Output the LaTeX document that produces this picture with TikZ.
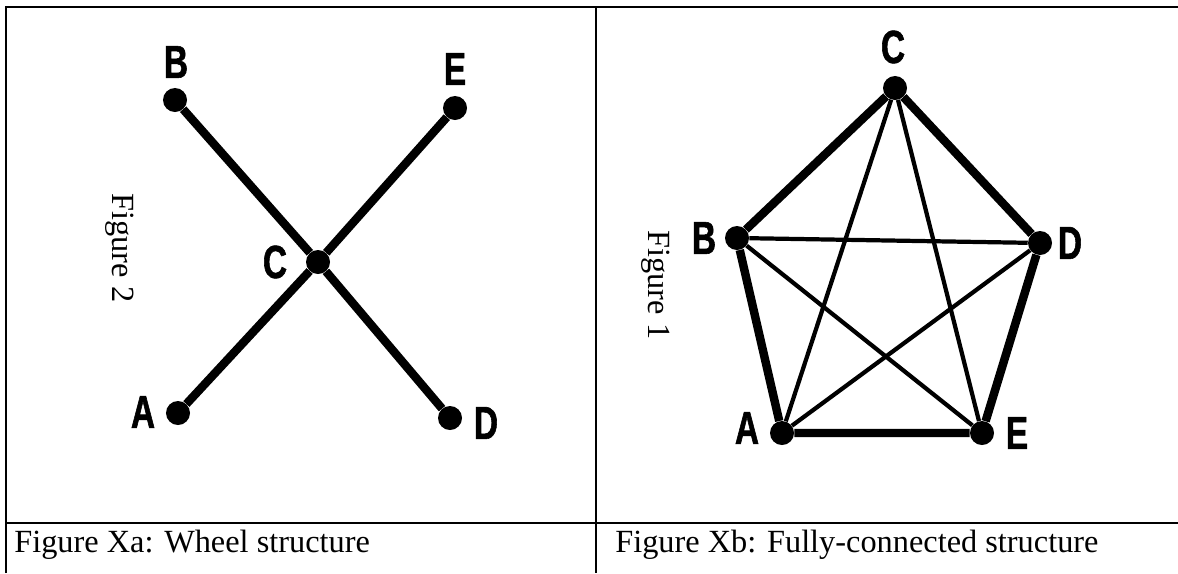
\documentclass[tikz,border=0pt]{standalone}
\usepackage{fontspec}
\setmainfont{Liberation Serif}
\newfontfamily\lblfont[FakeStretch=0.72,FakeBold=1.2]{Liberation Sans}
\usetikzlibrary{positioning}
\tikzset{
  vtx/.style={circle, fill=black, inner sep=0pt, minimum size=0.6cm},
  vlabel/.style={font=\lblfont\bfseries\fontsize{33}{33}\selectfont, inner sep=0pt},
  spoke/.style={line width=6pt},
  chord/.style={line width=3pt},
  tablerule/.style={line width=1.8pt},
  caption/.style={font=\fontsize{23}{27}\selectfont, anchor=base west, inner sep=0pt},
  sidetitle/.style={font=\fontsize{23}{27}\selectfont, rotate=-90, inner sep=0pt}
}

\begin{document}
\begin{tikzpicture}[x=0.025cm, y=-0.025cm]
\useasboundingbox (0,0) rectangle (1178,573);
% table
\draw[tablerule] (6,573) -- (6,7) -- (1178,7);
\draw[tablerule] (596,7) -- (596,573);
\draw[tablerule] (6,523) -- (1178,523);
\node[caption] (capa) at (14,552) {Figure Xa: Wheel structure};
\node[caption] (capb) at (615,552) {Figure Xb: Fully-connected structure};

% wheel
\node[sidetitle] (titlea) at (120,248) {Figure 2};
\node[vtx] (wB) at (175,100) {};
\node[vtx] (wE) at (455,108) {};
\node[vtx] (wC) at (318,262) {};
\node[vtx] (wA) at (178,413) {};
\node[vtx] (wD) at (450,418) {};
\node[vlabel] (wBl) at (176,62) {B};
\node[vlabel] (wEl) at (455,69) {E};
\node[vlabel] (wCl) at (275,262) {C};
\node[vlabel] (wAl) at (143,412) {A};
\node[vlabel] (wDl) at (486,423) {D};
\draw[spoke] (wB) -- (wC);
\draw[spoke] (wC) -- (wD);
\draw[spoke] (wA) -- (wC);
\draw[spoke] (wC) -- (wE);

% fully connected
\node[sidetitle] (titleb) at (656,285) {Figure 1};
\node[vtx] (fC) at (895,88) {};
\node[vtx] (fB) at (737,238) {};
\node[vtx] (fD) at (1040,243) {};
\node[vtx] (fA) at (782,433) {};
\node[vtx] (fE) at (982,433) {};
\node[vlabel] (fCl) at (893,47) {C};
\node[vlabel] (fBl) at (704,238) {B};
\node[vlabel] (fDl) at (1070,243) {D};
\node[vlabel] (fAl) at (747,428) {A};
\node[vlabel] (fEl) at (1017,433) {E};
\draw[spoke] (fC) -- (fB) -- (fA) -- (fE) -- (fD) -- (fC);
\draw[chord] (fB) -- (fD);
\draw[chord] (fB) -- (fE);
\draw[chord] (fA) -- (fC);
\draw[chord] (fA) -- (fD);
\draw[chord] (fC) -- (fE);
\end{tikzpicture}
\end{document}
